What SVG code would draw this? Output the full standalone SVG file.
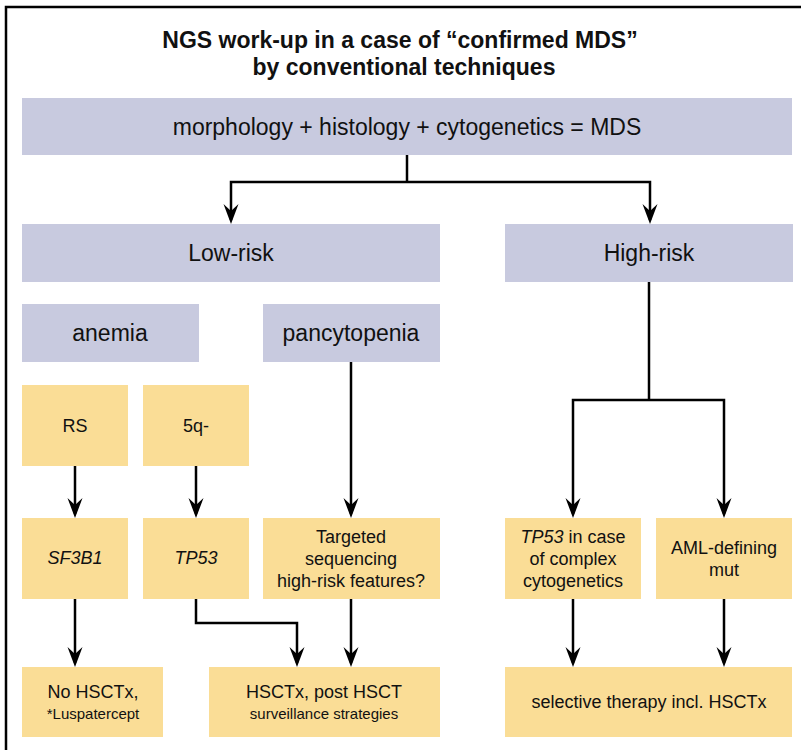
<svg xmlns="http://www.w3.org/2000/svg" width="801" height="750" viewBox="0 0 801 750">
<style>
.t{font-family:"Liberation Sans",Arial,Helvetica,sans-serif;fill:#111;text-anchor:middle}
.title{font-size:23px;font-weight:bold}
.big{font-size:23px}
.mid{font-size:18px}
.sm{font-size:15px}
.lav{fill:#c8cadf}
.yel{fill:#fadd96}
.c{fill:none;stroke:#000;stroke-width:2.5}
</style>
<defs>
<marker id="ah" markerUnits="userSpaceOnUse" viewBox="0 -8 20 16" markerWidth="20" markerHeight="16" refX="16" refY="0" orient="auto">
<path d="M0,-7.5 L20,0 L0,7.5 L7,0 Z" fill="#000"/>
</marker>
</defs>
<rect width="801" height="750" fill="#fff"/>
<path d="M6,750 V7 H801" fill="none" stroke="#000" stroke-width="2.5"/>
<g id="title">
<text class="t title" x="400" y="48">NGS work-up in a case of “confirmed MDS”</text>
<text class="t title" x="404" y="75">by conventional techniques</text>
</g>
<g id="n-mds"><rect class="lav" x="22" y="98" width="770" height="57"/><text class="t big" x="407" y="135">morphology + histology + cytogenetics = MDS</text></g>
<g id="n-low"><rect class="lav" x="22" y="224" width="418" height="58"/><text class="t big" x="231" y="261">Low-risk</text></g>
<g id="n-high"><rect class="lav" x="505" y="224" width="288" height="58"/><text class="t big" x="649" y="261">High-risk</text></g>
<g id="n-anemia"><rect class="lav" x="22" y="304" width="177" height="58"/><text class="t big" x="110" y="341">anemia</text></g>
<g id="n-pancy"><rect class="lav" x="263" y="304" width="177" height="58"/><text class="t big" x="351" y="341">pancytopenia</text></g>
<g id="n-rs"><rect class="yel" x="22" y="385" width="106" height="81"/><text class="t mid" x="75" y="432">RS</text></g>
<g id="n-5q"><rect class="yel" x="143" y="385" width="106" height="81"/><text class="t mid" x="196" y="432">5q-</text></g>
<g id="n-sf3b1"><rect class="yel" x="22" y="518" width="106" height="81"/><text class="t mid" x="75" y="564" font-style="italic">SF3B1</text></g>
<g id="n-tp53"><rect class="yel" x="143" y="518" width="106" height="81"/><text class="t mid" x="196" y="564" font-style="italic">TP53</text></g>
<g id="n-targeted"><rect class="yel" x="263" y="518" width="177" height="81"/>
<text class="t mid" x="351" y="543">Targeted</text>
<text class="t mid" x="351" y="565">sequencing</text>
<text class="t mid" x="351" y="587">high-risk features?</text></g>
<g id="n-tp53cx"><rect class="yel" x="505" y="518" width="136" height="81"/>
<text class="t mid" x="573" y="543"><tspan font-style="italic">TP53</tspan> in case</text>
<text class="t mid" x="573" y="565">of complex</text>
<text class="t mid" x="573" y="587">cytogenetics</text></g>
<g id="n-aml"><rect class="yel" x="656" y="518" width="136" height="81"/>
<text class="t mid" x="724" y="554">AML-defining</text>
<text class="t mid" x="724" y="576">mut</text></g>
<g id="n-nohsct"><rect class="yel" x="22" y="667" width="141" height="70"/>
<text class="t mid" x="93" y="698">No HSCTx,</text>
<text class="t sm" x="93" y="719">*Luspatercept</text></g>
<g id="n-hsct"><rect class="yel" x="209" y="667" width="231" height="70"/>
<text class="t mid" x="324" y="698">HSCTx, post HSCT</text>
<text class="t sm" x="324" y="719">surveillance strategies</text></g>
<g id="n-sel"><rect class="yel" x="505" y="667" width="287" height="70"/>
<text class="t mid" x="649" y="708">selective therapy incl. HSCTx</text></g>
<g id="connectors">
<path class="c" d="M407,155 V182"/>
<path class="c" d="M407,182 H231 V220" marker-end="url(#ah)"/>
<path class="c" d="M407,182 H650 V220" marker-end="url(#ah)"/>
<path class="c" d="M649,282 V400"/>
<path class="c" d="M649,400 H573 V514" marker-end="url(#ah)"/>
<path class="c" d="M649,400 H724 V514" marker-end="url(#ah)"/>
<path class="c" d="M75,466 V514" marker-end="url(#ah)"/>
<path class="c" d="M196,466 V514" marker-end="url(#ah)"/>
<path class="c" d="M351,362 V514" marker-end="url(#ah)"/>
<path class="c" d="M75,599 V663" marker-end="url(#ah)"/>
<path class="c" d="M196,599 V623 H297 V663" marker-end="url(#ah)"/>
<path class="c" d="M351,599 V663" marker-end="url(#ah)"/>
<path class="c" d="M573,599 V663" marker-end="url(#ah)"/>
<path class="c" d="M724,599 V663" marker-end="url(#ah)"/>
</g>
</svg>
